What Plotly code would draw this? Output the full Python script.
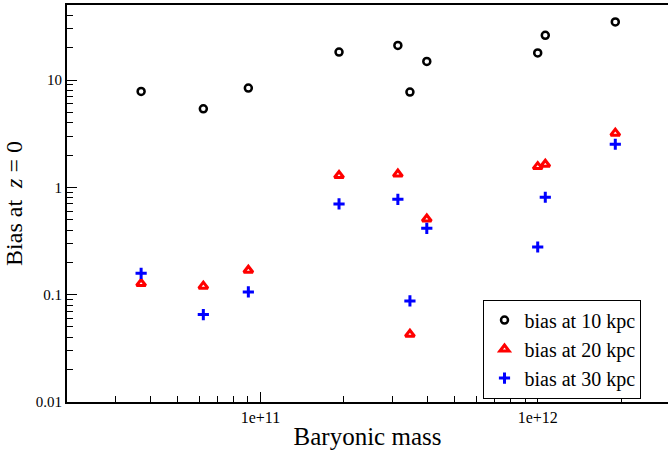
import plotly.graph_objects as go

# Baryonic mass of each galaxy
mass = [3.71e10, 6.22e10, 9.04e10, 1.92e11, 3.13e11, 3.46e11, 3.98e11, 1.00e12, 1.065e12, 1.905e12]
# Bias values
bias_10 = [7.83, 5.39, 8.42, 18.2, 21.0, 7.73, 14.9, 17.9, 26.1, 34.8]
bias_20 = [0.127, 0.120, 0.169, 1.29, 1.33, 0.0428, 0.507, 1.56, 1.64, 3.20]
bias_30 = [0.158, 0.0653, 0.106, 0.700, 0.774, 0.0875, 0.415, 0.278, 0.809, 2.52]

x_tickvals = [1e11, 1e12]
x_ticktext = ["1e+11", "1e+12"]
y_tickvals = [0.01, 0.1, 1, 10]
y_ticktext = ["0.01", "0.1", "1", "10"]
x_minor = [m * 10.0 ** e for e in (10, 11, 12) for m in range(2, 10)]
y_minor = [m * 10.0 ** e for e in (-2, -1, 0, 1) for m in range(2, 10)]

FONT = "Liberation Serif, Times New Roman, serif"

fig = go.Figure()
fig.add_trace(go.Scatter(
    x=mass, y=bias_10, mode="markers", name="bias at 10 kpc",
    marker=dict(symbol="circle-open", size=7, color="black", line=dict(width=2.5, color="black")),
))
fig.add_trace(go.Scatter(
    x=mass, y=bias_20, mode="markers", name="bias at 20 kpc",
    marker=dict(symbol="triangle-up-open", size=8, color="red", line=dict(width=3, color="red")),
))
fig.add_trace(go.Scatter(
    x=mass, y=bias_30, mode="markers", name="bias at 30 kpc",
    marker=dict(symbol="cross-thin-open", size=8, color="blue", line=dict(width=3, color="blue")),
))

fig.update_layout(
    width=668, height=450,
    margin=dict(l=67, r=0, t=5, b=48),
    plot_bgcolor="white", paper_bgcolor="white",
    font=dict(family=FONT, color="black", size=15),
    legend=dict(
        x=0.693, y=0.258, xanchor="left", yanchor="top",
        bgcolor="white", bordercolor="black", borderwidth=1,
        font=dict(size=20, family=FONT),
        tracegroupgap=0, itemwidth=30,
    ),
    xaxis=dict(
        type="log", range=[10.302, 12.470],
        showgrid=False, zeroline=False,
        showline=True, linecolor="black", linewidth=2, mirror=True,
        ticks="inside", ticklen=10, tickwidth=1, tickcolor="black",
        tickvals=x_tickvals, ticktext=x_ticktext,
        tickfont=dict(size=16),
        minor=dict(ticks="inside", ticklen=6, tickwidth=1, tickcolor="black",
                   showgrid=False, tickvals=x_minor),
        title=dict(text="Baryonic mass", font=dict(size=25), standoff=4),
    ),
    yaxis=dict(
        type="log", range=[-2, 1.699],
        showgrid=False, zeroline=False,
        showline=True, linecolor="black", linewidth=2, mirror=False,
        ticks="inside", ticklen=10, tickwidth=1, tickcolor="black",
        tickvals=y_tickvals, ticktext=y_ticktext,
        tickfont=dict(size=15),
        minor=dict(ticks="inside", ticklen=6, tickwidth=1, tickcolor="black",
                   showgrid=False, tickvals=y_minor),
        title=dict(text="Bias at&nbsp; <i>z</i> = 0", font=dict(size=24), standoff=6),
    ),
)

fig.write_html("out.html")
